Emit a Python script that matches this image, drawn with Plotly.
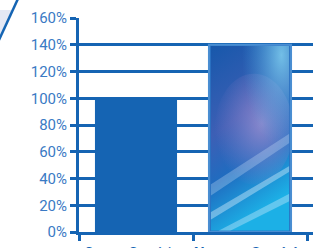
import base64
import plotly.graph_objects as go

categories = ["Grupo Genérico", "<b>Nuestro Servicio</b>"]
values = [100, 140]
tick_vals = [0, 20, 40, 60, 80, 100, 120, 140, 160]
tick_text = ["0%", "20%", "40%", "60%", "80%", "100%", "120%", "140%", "160%"]

BLUE = "#1564b3"
LABEL = "#3a7ac4"
BAR_W = 0.72

svg = """<svg xmlns='http://www.w3.org/2000/svg' width='100' height='200' viewBox='0 0 100 200' preserveAspectRatio='none'>
<defs>
<linearGradient id='b' x1='0' y1='0' x2='0.3' y2='1'>
<stop offset='0' stop-color='#1758ab'/>
<stop offset='0.45' stop-color='#3d5fb5'/>
<stop offset='0.7' stop-color='#1f6cc0'/>
<stop offset='1' stop-color='#1cb0e6'/>
</linearGradient>
<radialGradient id='p' cx='0.6' cy='0.45' r='0.6'>
<stop offset='0' stop-color='#9a8ed0' stop-opacity='0.85'/>
<stop offset='1' stop-color='#8a7cc8' stop-opacity='0'/>
</radialGradient>
<radialGradient id='h' cx='0.9' cy='0.05' r='0.5'>
<stop offset='0' stop-color='#7fd0f0' stop-opacity='0.85'/>
<stop offset='1' stop-color='#40a8e0' stop-opacity='0'/>
</radialGradient>
</defs>
<rect width='100' height='200' fill='url(#b)'/>
<ellipse cx='55' cy='90' rx='50' ry='60' fill='url(#p)'/>
<rect width='100' height='200' fill='url(#h)'/>
<path d='M0 150 L100 95 L100 105 L0 162 Z' fill='#cfe6fa' opacity='0.3'/>
<path d='M0 180 L100 130 L100 136 L0 188 Z' fill='#e6f4ff' opacity='0.4'/>
<path d='M10 200 L100 160 L100 168 L25 200 Z' fill='#e6f4ff' opacity='0.35'/>
</svg>"""
svg_uri = "data:image/svg+xml;base64," + base64.b64encode(svg.encode()).decode()

fig = go.Figure()
fig.add_trace(go.Bar(
    x=categories, y=values, width=BAR_W,
    marker=dict(color=[BLUE, "#2a72c2"],
                line=dict(color=[BLUE, "#4a8ed2"], width=[0, 2])),
    hoverinfo="skip",
))

fig.add_layout_image(dict(
    source=svg_uri, xref="x", yref="y",
    x=1 - BAR_W / 2 + 0.015, y=values[1] - 0.9,
    sizex=BAR_W - 0.03, sizey=values[1] - 1.8,
    sizing="stretch", xanchor="left", yanchor="top", layer="above",
))

# decorative corner
fig.add_shape(type="path", xref="paper", yref="paper",
              path="M -0.345 1.0374 L -0.282 1.0374 L -0.345 0.9065 Z",
              fillcolor="#e4e8f4", line=dict(width=0), layer="below")
fig.add_shape(type="line", xref="paper", yref="paper",
              x0=-0.2607, y0=1.09, x1=-0.345, y1=0.89,
              line=dict(color=BLUE, width=2.5))

fig.update_layout(
    width=313, height=262,
    margin=dict(l=79, r=0, t=18, b=30, autoexpand=False),
    paper_bgcolor="white", plot_bgcolor="white",
    showlegend=False,
    font=dict(family="Roboto", color=LABEL),
    xaxis=dict(
        type="category", range=[-0.5, 1.5526], tickangle=0, automargin=False,
        showgrid=False, zeroline=False, showline=True, linecolor=BLUE, linewidth=2.5,
        ticks="outside", tickson="boundaries", ticklen=6, tickwidth=2.5, tickcolor=BLUE,
        ticklabelstandoff=5,
        tickfont=dict(size=15, color=BLUE, family="Roboto"), fixedrange=True,
    ),
    yaxis=dict(
        range=[0, 160], tickmode="array", tickvals=tick_vals, ticktext=tick_text,
        automargin=False,
        showgrid=True, gridcolor=BLUE, gridwidth=2.5, zeroline=False,
        showline=True, linecolor=BLUE, linewidth=3,
        ticks="outside", ticklen=6, tickwidth=2.5, tickcolor=BLUE,
        tickfont=dict(size=15, color=LABEL, family="Roboto"), fixedrange=True,
    ),
)

fig.write_html("out.html", config={"displayModeBar": False},
               post_script="document.body.style.margin='0';document.body.style.overflow='hidden';")
